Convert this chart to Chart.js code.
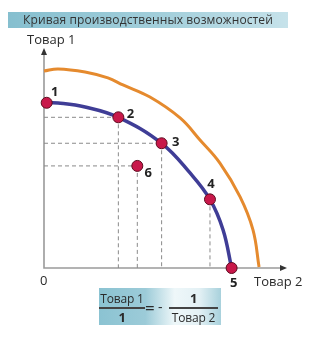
<!DOCTYPE html>
<html>
<head>
<meta charset="utf-8">
<script src="https://cdn.jsdelivr.net/npm/chart.js@4/dist/chart.umd.min.js"></script>
<style>
  html, body { margin:0; padding:0; background:#fff; }
  body { width:334px; height:343px; position:relative; overflow:hidden; font-family:"Open Sans", "DejaVu Sans", sans-serif; color:#2a2a2a; }
  #wrap { position:absolute; left:0; top:0; width:334px; height:343px; }
  .title { position:absolute; left:8px; top:12px; width:280px; height:16px; line-height:16px;
           background:linear-gradient(90deg,#86bfcf 0%,#a3cfdb 55%,#c6e2ea 100%);
           font-size:12px; text-align:center; color:#333; letter-spacing:0.1px; white-space:nowrap; }
  .lbl { position:absolute; font-size:13px; color:#2a2a2a; white-space:nowrap; }
  .formula { position:absolute; left:99px; top:288px; width:122px; height:37px;
             background:linear-gradient(90deg,#8bc3d2 0%,#9ccbd8 38%,#eef7f9 62%,#e4f1f5 82%,#a8d1dc 100%); }
  .frac { position:absolute; text-align:center; white-space:nowrap; }
  .frac .num, .frac .den { font-size:12px; line-height:15px; color:#2a2a2a; letter-spacing:-0.2px; white-space:nowrap; }
  .frac .bar { height:1.5px; background:#444; margin:1px 0; }
  .b { font-weight:bold; font-size:13px !important; }
</style>
</head>
<body>
<div id="wrap"><canvas id="c" width="334" height="343"></canvas></div>
<div class="title">Кривая производственных возможностей</div>
<div class="lbl" style="left:27px; top:30px;">Товар 1</div>
<div class="lbl" style="left:254px; top:272px;">Товар 2</div>
<div class="lbl" style="left:40px; top:271px;">0</div>
<div class="formula">
  <div class="frac" style="left:0px; top:3px; width:46px;">
    <div class="num">Товар 1</div><div class="bar"></div><div class="den b">1</div>
  </div>
  <div class="lbl" style="left:46px; top:8px; font-size:17px;">=</div>
  <div class="lbl" style="left:59px; top:9px; font-size:14px;">-</div>
  <div class="frac" style="left:70px; top:3px; width:49px;">
    <div class="num b">1</div><div class="bar"></div><div class="den">Товар 2</div>
  </div>
</div>
<script>
// ---- data ----
const pointLabels = ['1', '2', '3', '4', '5', '6'];
const pointX = [1.1, 30.6, 48.4, 68.3, 77.2, 38.4];
const pointY = [75.1, 68.5, 56.7, 31.2, 0, 46.4];

// inner production possibilities curve (blue)
const ppfX = [1.1, 5.8, 16.9, 30.6, 48.4, 60.1, 68.3, 73.7, 77.2];
const ppfY = [75.1, 75.0, 73.2, 68.5, 56.7, 43.2, 31.2, 17.3, 0];

// outer production possibilities curve (orange)
const ppf2X = [0, 5.8, 16.9, 26.3, 32.5, 43.6, 56.0, 64.2, 72.4, 80.7, 86.0, 88.5];
const ppf2Y = [89.5, 90.5, 89.1, 86.4, 83.2, 77.7, 68.2, 58.2, 47.7, 32.3, 17.3, 0.5];

// which points get dashed guide lines
const horizGuides = ['2', '3', '6'];
const vertGuides = ['2', '3', '6', '4'];

// ---- build datasets ----
const pts = pointLabels.map((l, i) => ({ x: pointX[i], y: pointY[i] }));
const toXY = (xs, ys) => xs.map((x, i) => ({ x, y: ys[i] }));

const datasets = [];
horizGuides.forEach(l => {
  const i = pointLabels.indexOf(l);
  datasets.push({ type: 'line', data: [{ x: 0, y: pointY[i] }, { x: pointX[i], y: pointY[i] }],
    borderColor: '#8a8a8a', borderWidth: 1, borderDash: [4, 3], pointRadius: 0, order: 3, clip: false });
});
vertGuides.forEach(l => {
  const i = pointLabels.indexOf(l);
  datasets.push({ type: 'line', data: [{ x: pointX[i], y: pointY[i] }, { x: pointX[i], y: 0 }],
    borderColor: '#8a8a8a', borderWidth: 1, borderDash: [4, 3], pointRadius: 0, order: 3, clip: false });
});
datasets.push({ type: 'line', data: toXY(ppf2X, ppf2Y), borderColor: '#e58a2e', borderWidth: 3,
  tension: 0.4, pointRadius: 0, order: 2, clip: false });
datasets.push({ type: 'line', data: toXY(ppfX, ppfY), borderColor: '#3f3d96', borderWidth: 3.5,
  tension: 0.4, pointRadius: 0, order: 2, clip: false });
datasets.push({ type: 'scatter', data: pts, backgroundColor: '#c8184a', borderColor: '#5e0c1f',
  borderWidth: 1, pointRadius: 5.5, order: 0, clip: false });

const axesPlugin = {
  id: 'axesArrows',
  beforeDatasetsDraw(chart) {
    const { ctx, scales: { x, y } } = chart;
    const x0 = x.getPixelForValue(0), y0 = y.getPixelForValue(0);
    const xr = x.getPixelForValue(x.max), yt = y.getPixelForValue(y.max);
    ctx.save();
    ctx.strokeStyle = '#9a9a9a';
    ctx.lineWidth = 1.6;
    ctx.beginPath();
    ctx.moveTo(x0, yt + 4); ctx.lineTo(x0, y0);
    ctx.lineTo(xr - 4, y0);
    ctx.stroke();
    ctx.fillStyle = '#333';
    ctx.beginPath();
    ctx.moveTo(x0, yt); ctx.lineTo(x0 - 3, yt + 7); ctx.lineTo(x0 + 3, yt + 7); ctx.closePath(); ctx.fill();
    ctx.beginPath();
    ctx.moveTo(xr, y0); ctx.lineTo(xr - 7, y0 - 3); ctx.lineTo(xr - 7, y0 + 3); ctx.closePath(); ctx.fill();
    ctx.restore();
  }
};

const labelOffsets = { '1': [8, -10], '2': [12, -3], '3': [14, -1], '4': [1, -15], '5': [2, 15], '6': [11, 7] };
const labelPlugin = {
  id: 'pointLabels',
  afterDatasetsDraw(chart) {
    const { ctx, scales: { x, y } } = chart;
    ctx.save();
    ctx.font = 'bold 13px "Open Sans", "DejaVu Sans", sans-serif';
    ctx.fillStyle = '#222';
    ctx.textAlign = 'center';
    ctx.textBaseline = 'middle';
    pointLabels.forEach((l, i) => {
      const o = labelOffsets[l];
      ctx.fillText(l, x.getPixelForValue(pointX[i]) + o[0], y.getPixelForValue(pointY[i]) + o[1]);
    });
    ctx.restore();
  }
};

new Chart(document.getElementById('c'), {
  type: 'scatter',
  data: { datasets },
  options: {
    responsive: false,
    animation: false,
    layout: { padding: { left: 44, right: 47, top: 48, bottom: 75 } },
    scales: {
      x: { type: 'linear', min: 0, max: 100, display: false },
      y: { type: 'linear', min: 0, max: 100, display: false }
    },
    plugins: { legend: { display: false }, tooltip: { enabled: false }, title: { display: false } },
    events: []
  },
  plugins: [axesPlugin, labelPlugin]
});
</script>
</body>
</html>
